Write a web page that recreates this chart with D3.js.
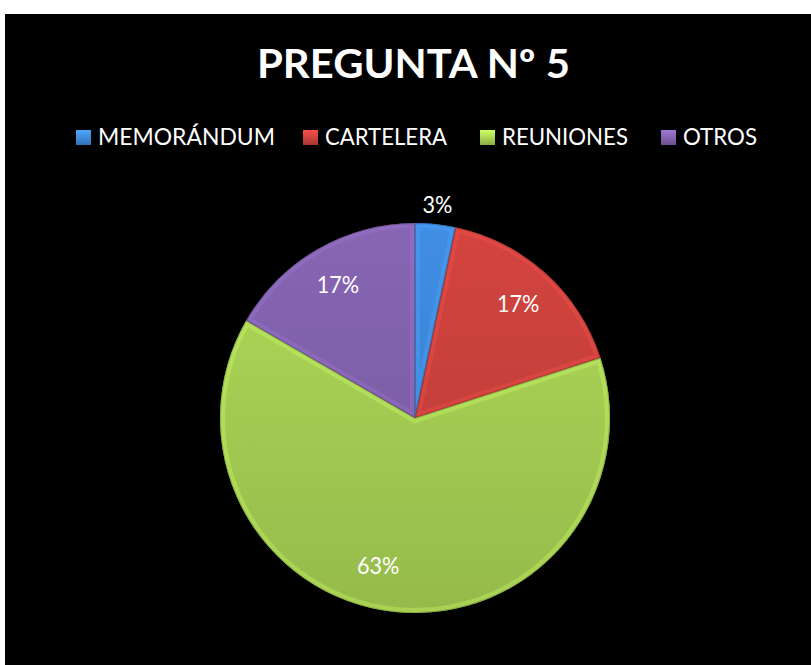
<!DOCTYPE html>
<html><head><meta charset="utf-8">
<script src="https://cdn.jsdelivr.net/npm/d3@7"></script>
<style>html,body{margin:0;padding:0;background:#fff;}svg{display:block;}</style>
</head><body>
<svg id="chart" width="811" height="665"></svg>
<script>
const title = "PREGUNTA Nº 5";
const categories = ["MEMORÁNDUM", "CARTELERA", "REUNIONES", "OTROS"];
const values = [1, 5, 19, 5];
const labels = ["3%", "17%", "63%", "17%"];
const colors = ["#3d87d9", "#c9403c", "#a6cf53", "#8061ab"];

const W = 811, H = 665;
const svg = d3.select("#chart");
svg.append("rect").attr("x", 5).attr("y", 14).attr("width", W - 5).attr("height", H - 14).attr("fill", "#000");

const font = "Lato, 'Open Sans', sans-serif";

function squeeze(sel, target) {
  sel.attr("textLength", target).attr("lengthAdjust", "spacingAndGlyphs");
}

// Title
const t = svg.append("text").attr("x", 257).attr("y", 78)
  .attr("font-family", font).attr("font-weight", "bold").attr("font-size", 40).attr("fill", "#fff").text(title);
squeeze(t, 313);

// Legend
const legendX = [76, 303, 480, 661];
const legendTextW = [177, 122, 126, 74];
const defs = svg.append("defs");
categories.forEach((c, i) => {
  const base = d3.color(colors[i]);
  const g = defs.append("linearGradient").attr("id", "lg" + i).attr("x1", 0).attr("y1", 0).attr("x2", 0).attr("y2", 1);
  g.append("stop").attr("offset", "0%").attr("stop-color", base.brighter(0.6));
  g.append("stop").attr("offset", "100%").attr("stop-color", base.darker(0.5));
  svg.append("rect").attr("x", legendX[i]).attr("y", 130).attr("width", 15).attr("height", 15).attr("fill", "url(#lg" + i + ")");
  const lt = svg.append("text").attr("x", legendX[i] + 22).attr("y", 145)
    .attr("font-family", font).attr("font-size", 23).attr("fill", "#fff").text(c);
  squeeze(lt, legendTextW[i]);
});

// Pie
const cx = 415, cy = 418, r = 195;
const pie = d3.pie().sort(null).value(d => d)(values);
const arc = d3.arc().innerRadius(0).outerRadius(r);
const g = svg.append("g").attr("transform", `translate(${cx},${cy})`);

pie.forEach((p, i) => {
  const base = d3.color(colors[i]);
  const grad = defs.append("linearGradient").attr("id", "pg" + i).attr("gradientUnits", "userSpaceOnUse")
    .attr("x1", 0).attr("y1", -r).attr("x2", 0).attr("y2", r);
  grad.append("stop").attr("offset", "0%").attr("stop-color", base.brighter(0.15));
  grad.append("stop").attr("offset", "100%").attr("stop-color", base.darker(0.3));
  defs.append("clipPath").attr("id", "cp" + i).append("path").attr("d", arc(p)).attr("transform", `translate(${cx},${cy})`);
});

pie.forEach((p, i) => {
  g.append("path").attr("d", arc(p)).attr("fill", "url(#pg" + i + ")");
});
// bevel highlight inside each slice
const bev = svg.append("g");
pie.forEach((p, i) => {
  const cg = bev.append("g").attr("clip-path", "url(#cp" + i + ")");
  cg.append("path").attr("d", arc(p)).attr("transform", `translate(${cx},${cy})`)
    .attr("fill", "none").attr("stroke", d3.color(colors[i]).brighter(0.6)).attr("stroke-opacity", 0.35).attr("stroke-width", 10);
  cg.append("path").attr("d", arc(p)).attr("transform", `translate(${cx},${cy})`)
    .attr("fill", "none").attr("stroke", d3.color(colors[i]).darker(1.2)).attr("stroke-opacity", 0.5).attr("stroke-width", 2);
});

// Labels
const labelArc = d3.arc().innerRadius(r * 0.79).outerRadius(r * 0.79);
const outArc = d3.arc().innerRadius(r * 1.1).outerRadius(r * 1.1);
pie.forEach((p, i) => {
  let pos;
  const frac = (p.endAngle - p.startAngle) / (2 * Math.PI);
  if (frac < 0.05) pos = outArc.centroid(p);
  else if (frac > 0.5) {
    const a = (p.startAngle + p.endAngle) / 2 + 0.14;
    pos = [Math.sin(a) * r * 0.78, -Math.cos(a) * r * 0.78];
  } else pos = labelArc.centroid(p);
  const lt = svg.append("text").attr("x", cx + pos[0]).attr("y", cy + pos[1] + 8.5).attr("text-anchor", "middle")
    .attr("font-family", font).attr("font-size", 24).attr("fill", "#fff").text(labels[i]);
  const w = lt.node().getComputedTextLength();
  lt.attr("x", cx + pos[0] - w * 0.45).attr("text-anchor", "start");
  squeeze(lt, w * 0.9);
});
</script>
</body></html>
